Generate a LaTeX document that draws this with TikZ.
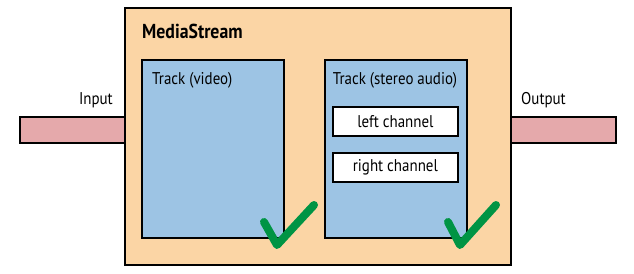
\documentclass[tikz,border=0pt]{standalone}
\usepackage{fontspec}
\setmainfont{PT Sans}[FakeStretch=0.88]
\usepackage{tikz}
\usetikzlibrary{positioning}
\definecolor{streamfill}{RGB}{251,213,165}
\definecolor{trackfill}{RGB}{157,196,228}
\definecolor{barfill}{RGB}{229,169,171}
\definecolor{checkgreen}{RGB}{0,148,68}
\tikzstyle{stream} = [draw, line width=2pt, fill=streamfill, anchor=north west,
    minimum width=386pt, minimum height=257pt, inner sep=0pt]
\tikzstyle{track} = [draw, line width=1.8pt, fill=trackfill, anchor=north west,
    minimum width=142pt, minimum height=178pt, inner sep=0pt]
\tikzstyle{channel} = [draw, line width=1.8pt, fill=white, anchor=north west,
    minimum width=125pt, minimum height=29pt, inner sep=0pt, font=\fontsize{17}{19}\selectfont]
\tikzstyle{bar} = [draw, line width=2.2pt, fill=barfill, anchor=north west,
    minimum width=105pt, minimum height=26pt, inner sep=0pt]
\tikzset{check/.style={line width=8pt, checkgreen, line cap=round, line join=round}}
\tikzset{lbl/.style={font=\fontsize{17}{19}\selectfont, inner sep=0pt}}

\begin{document}
\begin{tikzpicture}[x=1pt,y=-1pt]
\useasboundingbox (0,0) rectangle (634,273);
    %bars
    \node[bar] (in) at (19,116) {};
    \node[bar] (out) at (510,116) {};
    %stream and tracks
    \node[stream] (ms) at (124,7) {};
    \node[font=\fontsize{20.2}{22}\selectfont\bfseries, anchor=west, inner sep=0pt] (mslbl) at (142,31) {MediaStream};
    \node[track] (video) at (141,59) {};
    \node[track] (audio) at (324,59) {};
    \node[lbl, anchor=west] (videolbl) at (152,80) {Track (video)};
    \node[lbl] (audiolbl) at (395,80) {Track (stereo audio)};
    %channels
    \node[channel] (left) at (332,106) {left channel};
    \node[channel] (right) at (332,152) {right channel};
    %labels
    \node[lbl, anchor=east] (inlbl) at (113,100) {Input};
    \node[lbl, anchor=west] (outlbl) at (521,100) {Output};
    %checks
    \coordinate (c1a) at (264,222);
    \coordinate (c1b) at (277,245);
    \coordinate (c1c) at (314,205);
    \coordinate (c2a) at (448,222);
    \coordinate (c2b) at (460,245);
    \coordinate (c2c) at (496,205);
    \draw[check] (c1a) -- (c1b) -- (c1c);
    \draw[check] (c2a) -- (c2b) -- (c2c);
\end{tikzpicture}
\end{document}
